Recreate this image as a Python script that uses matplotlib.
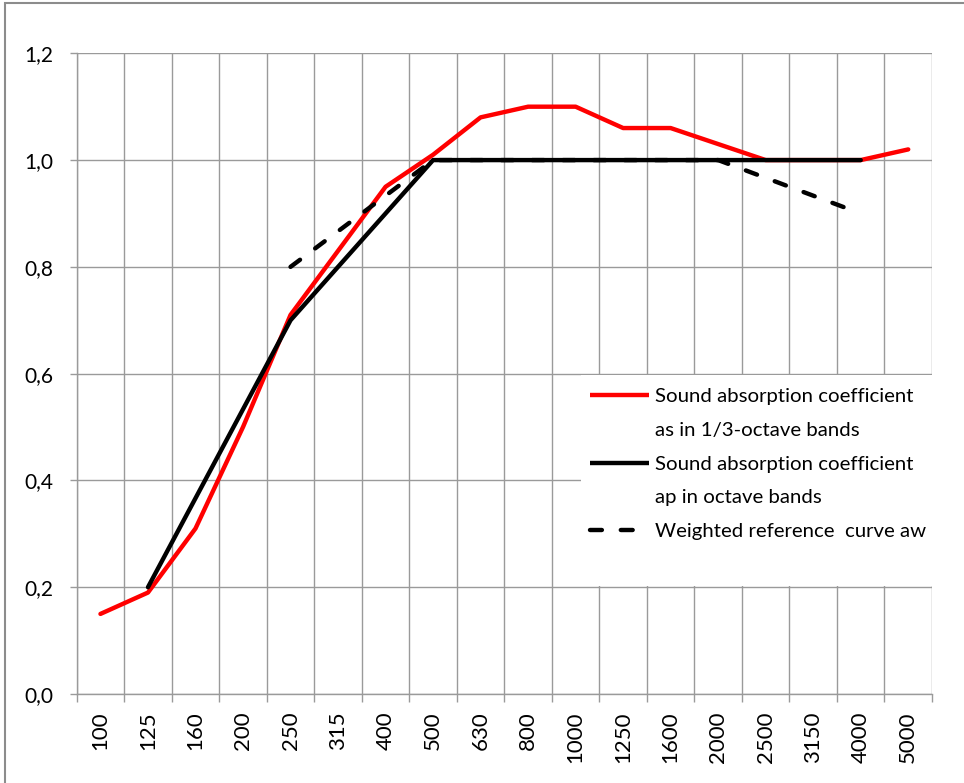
import matplotlib
matplotlib.use("Agg")
import matplotlib.pyplot as plt
import matplotlib.transforms as mtransforms
from matplotlib.lines import Line2D
from matplotlib.patches import Rectangle
from matplotlib.ticker import FixedLocator, FuncFormatter, NullFormatter, FixedFormatter

# ---------------- data ----------------
freqs = ["100", "125", "160", "200", "250", "315", "400", "500", "630",
         "800", "1000", "1250", "1600", "2000", "2500", "3150", "4000", "5000"]
alpha_third = [0.15, 0.19, 0.31, 0.50, 0.71, 0.83, 0.95, 1.01, 1.08,
               1.10, 1.10, 1.06, 1.06, 1.03, 1.00, 1.00, 1.00, 1.02]
octave_bands = ["125", "250", "500", "1000", "2000", "4000"]
alpha_octave = [0.20, 0.70, 1.00, 1.00, 1.00, 1.00]
ref_bands = ["250", "500", "1000", "2000", "4000"]
alpha_ref = [0.80, 1.00, 1.00, 1.00, 0.90]
y_ticks = [0.0, 0.2, 0.4, 0.6, 0.8, 1.0, 1.2]

label_third = "Sound absorption coefficient"
label_third2 = "as in 1/3-octave bands"
label_oct = "Sound absorption coefficient"
label_oct2 = "ap in octave bands"
label_ref = "Weighted reference  curve aw"

FONT = ["Lato", "DejaVu Sans"]
plt.rcParams["font.family"] = FONT

W, H = 964, 783
fig = plt.figure(figsize=(W / 100, H / 100), dpi=100)
fig.patch.set_facecolor("white")

left, right, top, bottom = 76.7, 932.0, 53.3, 694.0
ax = fig.add_axes([left / W, 1 - bottom / H, (right - left) / W, (bottom - top) / H])

x = list(range(len(freqs)))
x_oct = [freqs.index(b) for b in octave_bands]
x_ref = [freqs.index(b) for b in ref_bands]

grid_c = "#9a9a9a"
lw_px = 4.4
lw = lw_px * 0.72

ax.plot(x, alpha_third, color="#ff0000", lw=lw, solid_capstyle="round",
        solid_joinstyle="round", zorder=3)
ax.plot(x_oct, alpha_octave, color="black", lw=lw, solid_capstyle="round",
        solid_joinstyle="round", zorder=4)
ax.plot(x_ref, alpha_ref, color="black", lw=lw, dashes=(2.7, 4.3),
        dash_capstyle="round", zorder=5)

ax.set_xlim(-0.5, len(freqs) - 0.5)
ax.set_ylim(0, 1.2)

# x: boundaries as major ticks (grid + tick marks), centers as minor ticks (labels)
ax.xaxis.set_major_locator(FixedLocator([i - 0.5 for i in range(len(freqs) + 1)]))
ax.xaxis.set_major_formatter(NullFormatter())
ax.xaxis.set_minor_locator(FixedLocator(x))
ax.xaxis.set_minor_formatter(FixedFormatter(freqs))
ax.tick_params(axis="x", which="major", length=8 * 0.72, width=1.0, color=grid_c,
               direction="out")
ax.tick_params(axis="x", which="minor", length=0, pad=12.7, labelsize=16,
               labelrotation=90, labelcolor="black")
for t in ax.xaxis.get_minorticklabels():
    t.set_verticalalignment("top")

ax.yaxis.set_major_locator(FixedLocator(y_ticks))
ax.yaxis.set_major_formatter(FuncFormatter(lambda v, p: f"{v:.1f}".replace(".", ",")))
ax.tick_params(axis="y", length=7 * 0.72, width=1.0, color=grid_c, direction="out",
               pad=12.0, labelsize=15)

ax.grid(True, which="major", color=grid_c, lw=1.0)
ax.set_axisbelow(True)
for s in ["top", "right"]:
    ax.spines[s].set_visible(False)
for s in ["left", "bottom"]:
    ax.spines[s].set_color(grid_c)
    ax.spines[s].set_linewidth(1.0)
    ax.spines[s].set_zorder(0.6)

# legend background (white box covering grid)
trans = mtransforms.blended_transform_factory(ax.transAxes, ax.transData)
x0 = (581 - left) / (right - left)
ax.add_patch(Rectangle((x0, 0.2025), 1.004 - x0, 0.395, transform=trans,
                       facecolor="white", edgecolor="none", zorder=1, clip_on=False))

handles = [
    Line2D([], [], color="#ff0000", lw=lw, solid_capstyle="butt"),
    Line2D([], [], color="none", lw=0),
    Line2D([], [], color="black", lw=lw, solid_capstyle="butt"),
    Line2D([], [], color="none", lw=0),
    Line2D([], [], color="black", lw=lw, dashes=(2.7, 4.3), dash_capstyle="round"),
]
labels = [label_third, label_third2, label_oct, label_oct2, label_ref]
leg = fig.legend(handles, labels, loc="center left",
                 bbox_to_anchor=(590 / W, 1 - 464 / H), frameon=False,
                 fontsize=14.7, handlelength=2.9, handletextpad=0.3,
                 labelspacing=0.8, borderpad=0, borderaxespad=0)

# outer chart border
fig.patches.append(Rectangle((5 / W, -0.05), 1.2, 1 - 3 / H + 0.05,
                             transform=fig.transFigure, fill=False,
                             edgecolor="#8c8c8c", lw=1.5))

fig.savefig("out.png", dpi=100)
